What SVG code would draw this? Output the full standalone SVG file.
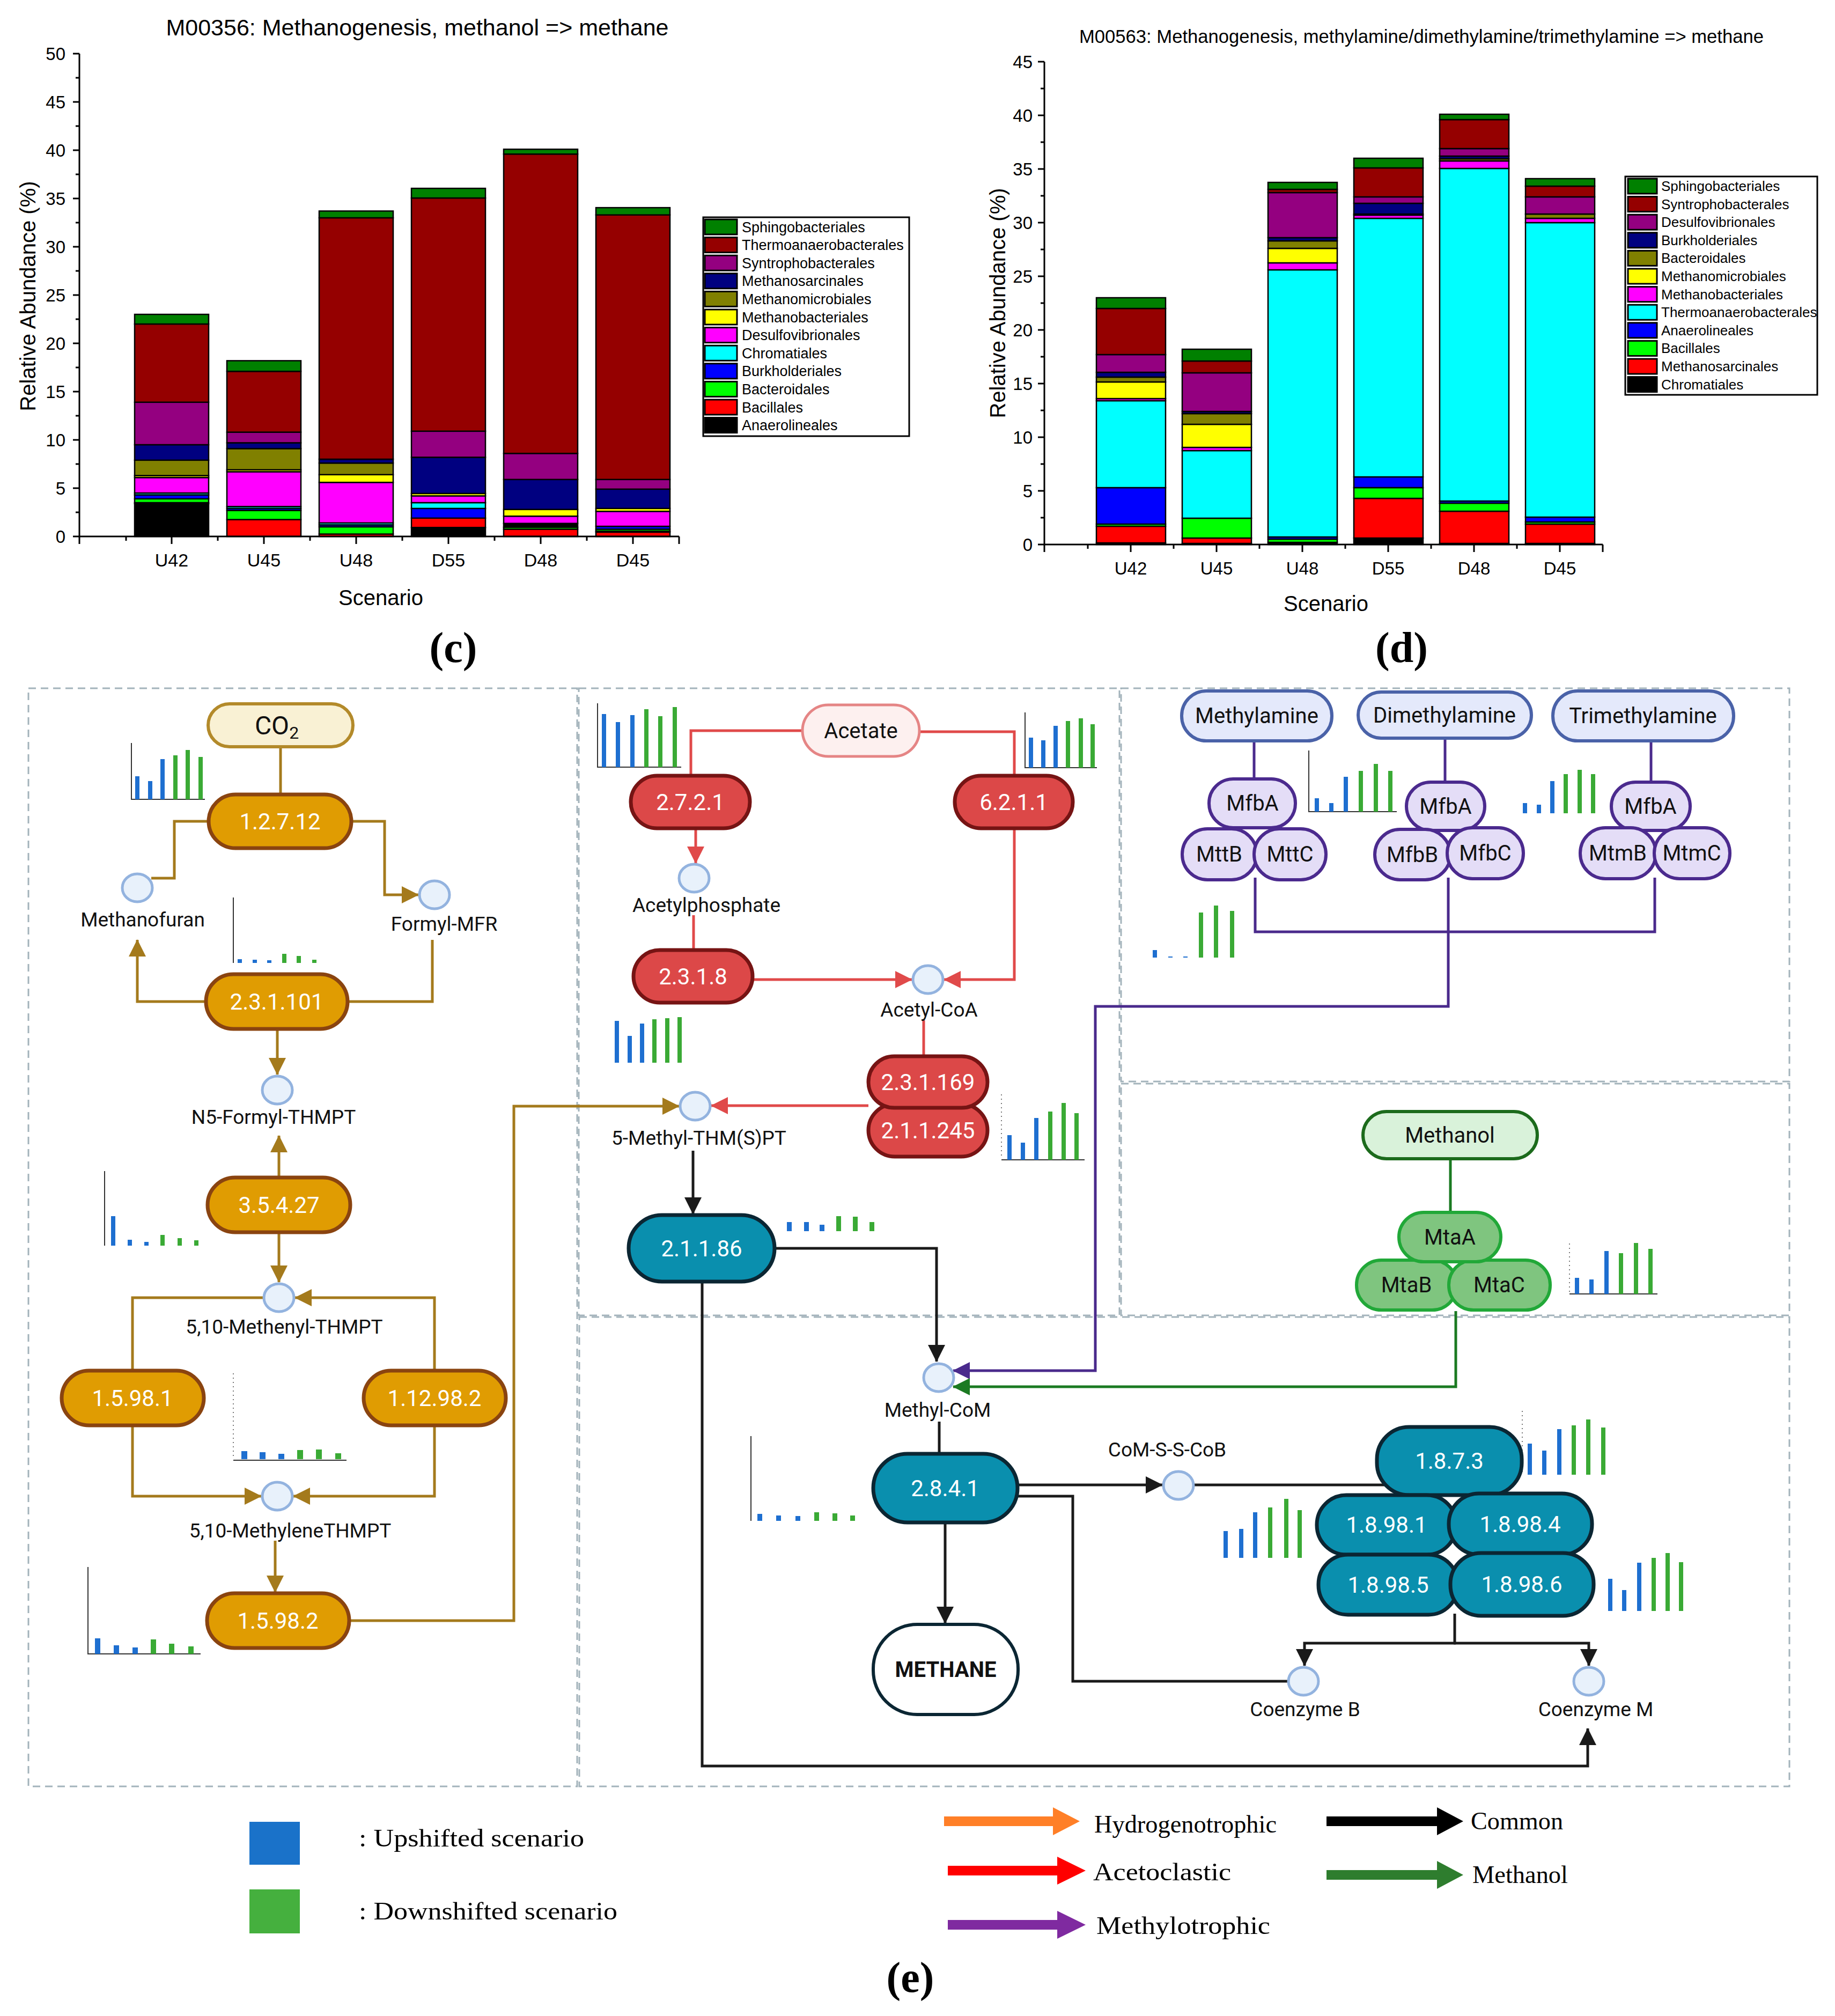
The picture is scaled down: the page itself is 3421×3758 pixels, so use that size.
<svg xmlns="http://www.w3.org/2000/svg" width="3421" height="3758" viewBox="0 0 3421 3758">
<style>
.ct{font-family:"Liberation Sans",Arial,sans-serif;fill:#000}
.pn{font-family:Roboto,"Liberation Sans",sans-serif}
.ez{font-size:42px;fill:#fff;text-anchor:middle}
.mt{font-size:37px;fill:#111;text-anchor:middle}
.nb{font-size:40px;fill:#111;text-anchor:middle}
.lg{font-family:"Liberation Serif","Times New Roman",serif;font-size:47px;fill:#000}
.ax{stroke:#000;stroke-width:3;fill:none}
.seg rect{stroke:#000;stroke-width:2.5}
.sw{stroke:#000;stroke-width:3}
.pan{fill:none;stroke:#a3b3bb;stroke-width:3;stroke-dasharray:14 9}
.gold{fill:none;stroke:#a47a1c;stroke-width:5}
.red{fill:none;stroke:#e04a4a;stroke-width:5}
.blk{fill:none;stroke:#1a1a1a;stroke-width:5}
.pur{fill:none;stroke:#4a2a8c;stroke-width:5}
.grn{fill:none;stroke:#1b7a22;stroke-width:5}
.gN{fill:#e09c02;stroke:#8a4410;stroke-width:7}
.rN{fill:#dc4848;stroke:#761414;stroke-width:7}
.tN{fill:#0a8fae;stroke:#0b2633;stroke-width:7}
.aN{fill:#e4e9fb;stroke:#4a62a8;stroke-width:6}
.pN{fill:#e4ddf7;stroke:#4b2a8e;stroke-width:6}
.mN{fill:#7fc57f;stroke:#21a838;stroke-width:6}
.met{fill:#e8f1fb;stroke:#93b3df;stroke-width:5}
.b{fill:#1e6fd0}
.g{fill:#3aaa35}
.mx{fill:none;stroke:#333;stroke-width:2}
.md{fill:none;stroke:#777;stroke-width:2;stroke-dasharray:2 6}
</style>
<defs>
<marker id="aG" markerUnits="userSpaceOnUse" markerWidth="32" markerHeight="32" refX="31" refY="16" orient="auto"><path d="M0,0 L32,16 L0,32 z" fill="#a47a1c"/></marker>
<marker id="aR" markerUnits="userSpaceOnUse" markerWidth="32" markerHeight="32" refX="31" refY="16" orient="auto"><path d="M0,0 L32,16 L0,32 z" fill="#e04a4a"/></marker>
<marker id="aK" markerUnits="userSpaceOnUse" markerWidth="32" markerHeight="32" refX="31" refY="16" orient="auto"><path d="M0,0 L32,16 L0,32 z" fill="#1a1a1a"/></marker>
<marker id="aP" markerUnits="userSpaceOnUse" markerWidth="32" markerHeight="32" refX="31" refY="16" orient="auto"><path d="M0,0 L32,16 L0,32 z" fill="#4a2a8c"/></marker>
<marker id="aV" markerUnits="userSpaceOnUse" markerWidth="32" markerHeight="32" refX="31" refY="16" orient="auto"><path d="M0,0 L32,16 L0,32 z" fill="#1b7a22"/></marker>
</defs>
<rect width="3421" height="3758" fill="#fff"/>

<!-- ===== Chart (c) ===== -->
<g id="chart-c">
<text class="ct" x="778" y="66" font-size="43" text-anchor="middle">M00356: Methanogenesis, methanol =&gt; methane</text>
<g class="seg">
<rect x="251" y="938.8" width="138" height="61.2" fill="#000"/>
<rect x="251" y="937" width="138" height="1.8" fill="#f00"/>
<rect x="251" y="929.8" width="138" height="7.2" fill="#0f0"/>
<rect x="251" y="922.6" width="138" height="7.2" fill="#00f"/>
<rect x="251" y="919" width="138" height="3.6" fill="#0ff"/>
<rect x="251" y="890.2" width="138" height="28.8" fill="#f0f"/>
<rect x="251" y="886.6" width="138" height="3.6" fill="#ff0"/>
<rect x="251" y="857.8" width="138" height="28.8" fill="#808000"/>
<rect x="251" y="829" width="138" height="28.8" fill="#000080"/>
<rect x="251" y="749.8" width="138" height="79.2" fill="#940080"/>
<rect x="251" y="604" width="138" height="145.8" fill="#950000"/>
<rect x="251" y="586" width="138" height="18" fill="#008000"/>

<rect x="423" y="968.5" width="138" height="31.5" fill="#f00"/>
<rect x="423" y="951.4" width="138" height="17.1" fill="#0f0"/>
<rect x="423" y="947.8" width="138" height="3.6" fill="#00f"/>
<rect x="423" y="944.2" width="138" height="3.6" fill="#0ff"/>
<rect x="423" y="879.4" width="138" height="64.8" fill="#f0f"/>
<rect x="423" y="875.8" width="138" height="3.6" fill="#ff0"/>
<rect x="423" y="836.2" width="138" height="39.6" fill="#808000"/>
<rect x="423" y="825.4" width="138" height="10.8" fill="#000080"/>
<rect x="423" y="805.6" width="138" height="19.8" fill="#940080"/>
<rect x="423" y="692.2" width="138" height="113.4" fill="#950000"/>
<rect x="423" y="672.4" width="138" height="19.8" fill="#008000"/>

<rect x="595" y="995.5" width="138" height="4.5" fill="#f00"/>
<rect x="595" y="982" width="138" height="13.5" fill="#0f0"/>
<rect x="595" y="978.4" width="138" height="3.6" fill="#00f"/>
<rect x="595" y="974.8" width="138" height="3.6" fill="#0ff"/>
<rect x="595" y="899.2" width="138" height="75.6" fill="#f0f"/>
<rect x="595" y="884.8" width="138" height="14.4" fill="#ff0"/>
<rect x="595" y="863.2" width="138" height="21.6" fill="#808000"/>
<rect x="595" y="856" width="138" height="7.2" fill="#000080"/>
<rect x="595" y="406" width="138" height="450" fill="#950000"/>
<rect x="595" y="393.4" width="138" height="12.6" fill="#008000"/>

<rect x="767" y="983.3" width="138" height="16.7" fill="#000"/>
<rect x="767" y="965.8" width="138" height="17.5" fill="#f00"/>
<rect x="767" y="947.8" width="138" height="18" fill="#00f"/>
<rect x="767" y="937" width="138" height="10.8" fill="#0ff"/>
<rect x="767" y="924.4" width="138" height="12.6" fill="#f0f"/>
<rect x="767" y="919.9" width="138" height="4.5" fill="#ff0"/>
<rect x="767" y="852.4" width="138" height="67.5" fill="#000080"/>
<rect x="767" y="803.8" width="138" height="48.6" fill="#940080"/>
<rect x="767" y="369.1" width="138" height="434.7" fill="#950000"/>
<rect x="767" y="351.1" width="138" height="18" fill="#008000"/>

<rect x="939" y="986.5" width="138" height="13.5" fill="#f00"/>
<rect x="939" y="982.9" width="138" height="3.6" fill="#0f0"/>
<rect x="939" y="975.7" width="138" height="7.2" fill="#000"/>
<rect x="939" y="962.2" width="138" height="13.5" fill="#f0f"/>
<rect x="939" y="949.6" width="138" height="12.6" fill="#ff0"/>
<rect x="939" y="893.8" width="138" height="55.8" fill="#000080"/>
<rect x="939" y="845.2" width="138" height="48.6" fill="#940080"/>
<rect x="939" y="287.2" width="138" height="558" fill="#950000"/>
<rect x="939" y="278.2" width="138" height="9" fill="#008000"/>

<rect x="1111" y="991.9" width="138" height="8.1" fill="#f00"/>
<rect x="1111" y="990.1" width="138" height="1.8" fill="#000"/>
<rect x="1111" y="986.5" width="138" height="3.6" fill="#0f0"/>
<rect x="1111" y="981.1" width="138" height="5.4" fill="#00f"/>
<rect x="1111" y="953.2" width="138" height="27.9" fill="#f0f"/>
<rect x="1111" y="947.8" width="138" height="5.4" fill="#ff0"/>
<rect x="1111" y="911.8" width="138" height="36" fill="#000080"/>
<rect x="1111" y="893.8" width="138" height="18" fill="#940080"/>
<rect x="1111" y="400.6" width="138" height="493.2" fill="#950000"/>
<rect x="1111" y="387.1" width="138" height="13.5" fill="#008000"/>
</g>
<path class="ax" d="M148,100 V1000 H1266"/>
<path class="ax" d="M136,1000H148M141,955H148M136,910H148M141,865H148M136,820H148M141,775H148M136,730H148M141,685H148M136,640H148M141,595H148M136,550H148M141,505H148M136,460H148M141,415H148M136,370H148M141,325H148M136,280H148M141,235H148M136,190H148M141,145H148M136,100H148"/>
<path class="ax" d="M148,1000V1014M235,1000V1008M320,1000V1014M406,1000V1008M492,1000V1014M578,1000V1008M664,1000V1014M750,1000V1008M836,1000V1014M922,1000V1008M1008,1000V1014M1094,1000V1008M1180,1000V1014M1266,1000V1014"/>
<g class="ct" font-size="33" text-anchor="end">
<text x="122" y="1012">0</text><text x="122" y="922">5</text><text x="122" y="832">10</text><text x="122" y="742">15</text><text x="122" y="652">20</text><text x="122" y="562">25</text><text x="122" y="472">30</text><text x="122" y="382">35</text><text x="122" y="292">40</text><text x="122" y="202">45</text><text x="122" y="112">50</text>
</g>
<g class="ct" font-size="34" text-anchor="middle">
<text x="320" y="1056">U42</text><text x="492" y="1056">U45</text><text x="664" y="1056">U48</text><text x="836" y="1056">D55</text><text x="1008" y="1056">D48</text><text x="1180" y="1056">D45</text>
</g>
<text class="ct" font-size="40" text-anchor="middle" transform="translate(66,552) rotate(-90)">Relative Abundance (%)</text>
<text class="ct" font-size="40" text-anchor="middle" x="710" y="1128">Scenario</text>
<rect x="1311" y="405" width="384" height="408" fill="#fff" stroke="#000" stroke-width="3"/>
<g class="sw">
<rect x="1314" y="409" width="60" height="28" fill="#008000"/>
<rect x="1314" y="442.6" width="60" height="28" fill="#950000"/>
<rect x="1314" y="476.2" width="60" height="28" fill="#940080"/>
<rect x="1314" y="509.8" width="60" height="28" fill="#000080"/>
<rect x="1314" y="543.4" width="60" height="28" fill="#808000"/>
<rect x="1314" y="577" width="60" height="28" fill="#ff0"/>
<rect x="1314" y="610.6" width="60" height="28" fill="#f0f"/>
<rect x="1314" y="644.2" width="60" height="28" fill="#0ff"/>
<rect x="1314" y="677.8" width="60" height="28" fill="#00f"/>
<rect x="1314" y="711.4" width="60" height="28" fill="#0f0"/>
<rect x="1314" y="745" width="60" height="28" fill="#f00"/>
<rect x="1314" y="778.6" width="60" height="28" fill="#000"/>
</g>
<g class="ct" font-size="27">
<text x="1383" y="432.5">Sphingobacteriales</text>
<text x="1383" y="466.1">Thermoanaerobacterales</text>
<text x="1383" y="499.7">Syntrophobacterales</text>
<text x="1383" y="533.3">Methanosarcinales</text>
<text x="1383" y="566.9">Methanomicrobiales</text>
<text x="1383" y="600.5">Methanobacteriales</text>
<text x="1383" y="634.1">Desulfovibrionales</text>
<text x="1383" y="667.7">Chromatiales</text>
<text x="1383" y="701.3">Burkholderiales</text>
<text x="1383" y="734.9">Bacteroidales</text>
<text x="1383" y="768.5">Bacillales</text>
<text x="1383" y="802.1">Anaerolineales</text>
</g>
<text x="845" y="1234" font-family="'Liberation Serif','Times New Roman',serif" font-weight="bold" font-size="80" text-anchor="middle">(c)</text>
</g>

<!-- ===== Chart (d) ===== -->
<g id="chart-d">
<text class="ct" x="2650" y="80" font-size="35" text-anchor="middle" textLength="1276" lengthAdjust="spacingAndGlyphs">M00563: Methanogenesis, methylamine/dimethylamine/trimethylamine =&gt; methane</text>
<g class="seg">
<rect x="2044" y="1012" width="129" height="3" fill="#000"/>
<rect x="2044" y="981" width="129" height="31" fill="#f00"/>
<rect x="2044" y="977" width="129" height="4" fill="#0f0"/>
<rect x="2044" y="909" width="129" height="68" fill="#00f"/>
<rect x="2044" y="747" width="129" height="162" fill="#0ff"/>
<rect x="2044" y="743" width="129" height="4" fill="#f0f"/>
<rect x="2044" y="712" width="129" height="31" fill="#ff0"/>
<rect x="2044" y="703" width="129" height="9" fill="#808000"/>
<rect x="2044" y="694" width="129" height="9" fill="#000080"/>
<rect x="2044" y="661" width="129" height="33" fill="#940080"/>
<rect x="2044" y="575" width="129" height="86" fill="#950000"/>
<rect x="2044" y="555" width="129" height="20" fill="#008000"/>

<rect x="2204" y="1013" width="129" height="2" fill="#000"/>
<rect x="2204" y="1003" width="129" height="10" fill="#f00"/>
<rect x="2204" y="966" width="129" height="37" fill="#0f0"/>
<rect x="2204" y="840" width="129" height="126" fill="#0ff"/>
<rect x="2204" y="834" width="129" height="6" fill="#f0f"/>
<rect x="2204" y="791" width="129" height="43" fill="#ff0"/>
<rect x="2204" y="771" width="129" height="20" fill="#808000"/>
<rect x="2204" y="767" width="129" height="4" fill="#000080"/>
<rect x="2204" y="695" width="129" height="72" fill="#940080"/>
<rect x="2204" y="673" width="129" height="22" fill="#950000"/>
<rect x="2204" y="651" width="129" height="22" fill="#008000"/>

<rect x="2364" y="1011" width="129" height="4" fill="#000"/>
<rect x="2364" y="1005" width="129" height="6" fill="#0f0"/>
<rect x="2364" y="1001" width="129" height="4" fill="#00f"/>
<rect x="2364" y="503" width="129" height="498" fill="#0ff"/>
<rect x="2364" y="490" width="129" height="13" fill="#f0f"/>
<rect x="2364" y="463" width="129" height="27" fill="#ff0"/>
<rect x="2364" y="449" width="129" height="14" fill="#808000"/>
<rect x="2364" y="443" width="129" height="6" fill="#000080"/>
<rect x="2364" y="359" width="129" height="84" fill="#940080"/>
<rect x="2364" y="353" width="129" height="6" fill="#950000"/>
<rect x="2364" y="340" width="129" height="13" fill="#008000"/>

<rect x="2524" y="1003" width="129" height="12" fill="#000"/>
<rect x="2524" y="929" width="129" height="74" fill="#f00"/>
<rect x="2524" y="909" width="129" height="20" fill="#0f0"/>
<rect x="2524" y="889" width="129" height="20" fill="#00f"/>
<rect x="2524" y="407" width="129" height="482" fill="#0ff"/>
<rect x="2524" y="401" width="129" height="6" fill="#f0f"/>
<rect x="2524" y="399" width="129" height="2" fill="#ff0"/>
<rect x="2524" y="379" width="129" height="20" fill="#000080"/>
<rect x="2524" y="367" width="129" height="12" fill="#940080"/>
<rect x="2524" y="313" width="129" height="54" fill="#950000"/>
<rect x="2524" y="295" width="129" height="18" fill="#008000"/>

<rect x="2684" y="1013" width="129" height="2" fill="#000"/>
<rect x="2684" y="953" width="129" height="60" fill="#f00"/>
<rect x="2684" y="938" width="129" height="15" fill="#0f0"/>
<rect x="2684" y="934" width="129" height="4" fill="#00f"/>
<rect x="2684" y="314" width="129" height="620" fill="#0ff"/>
<rect x="2684" y="300" width="129" height="14" fill="#f0f"/>
<rect x="2684" y="296" width="129" height="4" fill="#808000"/>
<rect x="2684" y="291" width="129" height="5" fill="#000080"/>
<rect x="2684" y="277" width="129" height="14" fill="#940080"/>
<rect x="2684" y="223" width="129" height="54" fill="#950000"/>
<rect x="2684" y="213" width="129" height="10" fill="#008000"/>

<rect x="2844" y="1013" width="129" height="2" fill="#000"/>
<rect x="2844" y="977" width="129" height="36" fill="#f00"/>
<rect x="2844" y="973" width="129" height="4" fill="#0f0"/>
<rect x="2844" y="964" width="129" height="9" fill="#00f"/>
<rect x="2844" y="415" width="129" height="549" fill="#0ff"/>
<rect x="2844" y="407" width="129" height="8" fill="#f0f"/>
<rect x="2844" y="399" width="129" height="8" fill="#808000"/>
<rect x="2844" y="367" width="129" height="32" fill="#940080"/>
<rect x="2844" y="347" width="129" height="20" fill="#950000"/>
<rect x="2844" y="333" width="129" height="14" fill="#008000"/>
</g>
<path class="ax" d="M1947,115 V1015 H2988"/>
<path class="ax" d="M1935,1015H1947M1940,965H1947M1935,915H1947M1940,865H1947M1935,815H1947M1940,765H1947M1935,715H1947M1940,665H1947M1935,615H1947M1940,565H1947M1935,515H1947M1940,465H1947M1935,415H1947M1940,365H1947M1935,315H1947M1940,265H1947M1935,215H1947M1940,165H1947M1935,115H1947"/>
<path class="ax" d="M1947,1015V1029M2028,1015V1023M2108,1015V1029M2188,1015V1023M2268,1015V1029M2348,1015V1023M2428,1015V1029M2508,1015V1023M2588,1015V1029M2668,1015V1023M2748,1015V1029M2828,1015V1023M2908,1015V1029M2988,1015V1029"/>
<g class="ct" font-size="33" text-anchor="end">
<text x="1925" y="1027">0</text><text x="1925" y="927">5</text><text x="1925" y="827">10</text><text x="1925" y="727">15</text><text x="1925" y="627">20</text><text x="1925" y="527">25</text><text x="1925" y="427">30</text><text x="1925" y="327">35</text><text x="1925" y="227">40</text><text x="1925" y="127">45</text>
</g>
<g class="ct" font-size="33" text-anchor="middle">
<text x="2108" y="1071">U42</text><text x="2268" y="1071">U45</text><text x="2428" y="1071">U48</text><text x="2588" y="1071">D55</text><text x="2748" y="1071">D48</text><text x="2908" y="1071">D45</text>
</g>
<text class="ct" font-size="40" text-anchor="middle" transform="translate(1874,565) rotate(-90)">Relative Abundance (%)</text>
<text class="ct" font-size="40" text-anchor="middle" x="2472" y="1139">Scenario</text>
<rect x="3030" y="329" width="358" height="407" fill="#fff" stroke="#000" stroke-width="3"/>
<g class="sw">
<rect x="3035" y="333" width="54" height="28" fill="#008000"/>
<rect x="3035" y="366.6" width="54" height="28" fill="#950000"/>
<rect x="3035" y="400.2" width="54" height="28" fill="#940080"/>
<rect x="3035" y="433.8" width="54" height="28" fill="#000080"/>
<rect x="3035" y="467.4" width="54" height="28" fill="#808000"/>
<rect x="3035" y="501" width="54" height="28" fill="#ff0"/>
<rect x="3035" y="534.6" width="54" height="28" fill="#f0f"/>
<rect x="3035" y="568.2" width="54" height="28" fill="#0ff"/>
<rect x="3035" y="601.8" width="54" height="28" fill="#00f"/>
<rect x="3035" y="635.4" width="54" height="28" fill="#0f0"/>
<rect x="3035" y="669" width="54" height="28" fill="#f00"/>
<rect x="3035" y="702.6" width="54" height="28" fill="#000"/>
</g>
<g class="ct" font-size="26">
<text x="3097" y="356">Sphingobacteriales</text>
<text x="3097" y="389.6">Syntrophobacterales</text>
<text x="3097" y="423.2">Desulfovibrionales</text>
<text x="3097" y="456.8">Burkholderiales</text>
<text x="3097" y="490.4">Bacteroidales</text>
<text x="3097" y="524">Methanomicrobiales</text>
<text x="3097" y="557.6">Methanobacteriales</text>
<text x="3097" y="591.2">Thermoanaerobacterales</text>
<text x="3097" y="624.8">Anaerolineales</text>
<text x="3097" y="658.4">Bacillales</text>
<text x="3097" y="692">Methanosarcinales</text>
<text x="3097" y="725.6">Chromatiales</text>
</g>
<text x="2613" y="1234" font-family="'Liberation Serif','Times New Roman',serif" font-weight="bold" font-size="80" text-anchor="middle">(d)</text>
</g>

<!-- ===== Pathway panels ===== -->
<g id="panels">
<rect class="pan" x="53" y="1283" width="1023" height="2047"/>
<rect class="pan" x="1079" y="1283" width="1008" height="1169"/>
<rect class="pan" x="2090" y="1283" width="1246" height="733"/>
<rect class="pan" x="2090" y="2020" width="1246" height="432"/>
<rect class="pan" x="1080" y="2455" width="2256" height="875"/>
</g>

<!-- ===== Mini bar charts ===== -->
<g id="minicharts">
<g id="mc1"><path class="mx" d="M245,1385V1490H382"/><rect class="b" x="252" y="1447" width="8" height="43"/><rect class="b" x="276" y="1456" width="8" height="34"/><rect class="b" x="299" y="1415" width="8" height="75"/><rect class="g" x="323" y="1408" width="8" height="82"/><rect class="g" x="346" y="1398" width="8" height="92"/><rect class="g" x="370" y="1411" width="8" height="79"/></g>
<g id="mc2"><path class="mx" d="M435,1673V1795"/><rect class="b" x="443" y="1788" width="8" height="7"/><rect class="b" x="471" y="1789" width="8" height="6"/><rect class="b" x="498" y="1790" width="8" height="5"/><rect class="g" x="526" y="1778" width="8" height="17"/><rect class="g" x="553" y="1782" width="8" height="13"/><rect class="g" x="582" y="1789" width="8" height="6"/></g>
<g id="mc3"><path class="mx" d="M195,2183V2322"/><rect class="b" x="207" y="2267" width="8" height="55"/><rect class="b" x="238" y="2311" width="8" height="11"/><rect class="b" x="269" y="2315" width="8" height="7"/><rect class="g" x="299" y="2302" width="8" height="20"/><rect class="g" x="331" y="2308" width="8" height="14"/><rect class="g" x="362" y="2312" width="8" height="10"/></g>
<g id="mc4"><path class="md" d="M435,2560V2720"/><path class="mx" d="M435,2722H646"/><rect class="b" x="450" y="2705" width="11" height="15"/><rect class="b" x="484" y="2707" width="11" height="13"/><rect class="b" x="519" y="2710" width="11" height="10"/><rect class="g" x="554" y="2703" width="11" height="17"/><rect class="g" x="589" y="2702" width="11" height="18"/><rect class="g" x="625" y="2709" width="11" height="11"/></g>
<g id="mc5"><path class="mx" d="M164,2921V3083H374"/><rect class="b" x="177" y="3054" width="10" height="29"/><rect class="b" x="212" y="3067" width="10" height="16"/><rect class="b" x="247" y="3071" width="10" height="12"/><rect class="g" x="281" y="3056" width="10" height="27"/><rect class="g" x="315" y="3064" width="10" height="19"/><rect class="g" x="351" y="3069" width="10" height="14"/></g>
<g id="mc6"><path class="mx" d="M1114,1311V1430H1270"/><rect class="b" x="1122" y="1331" width="8" height="99"/><rect class="b" x="1148" y="1346" width="8" height="84"/><rect class="b" x="1175" y="1333" width="8" height="97"/><rect class="g" x="1201" y="1322" width="8" height="108"/><rect class="g" x="1227" y="1335" width="8" height="95"/><rect class="g" x="1254" y="1318" width="8" height="112"/></g>
<g id="mc7"><path class="mx" d="M1911,1328V1431H2045"/><rect class="b" x="1918" y="1375" width="8" height="56"/><rect class="b" x="1941" y="1380" width="8" height="51"/><rect class="b" x="1964" y="1353" width="8" height="78"/><rect class="g" x="1987" y="1344" width="8" height="87"/><rect class="g" x="2011" y="1339" width="8" height="92"/><rect class="g" x="2033" y="1350" width="8" height="81"/></g>
<g id="mc8"><rect class="b" x="1146" y="1903" width="8" height="78"/><rect class="b" x="1170" y="1931" width="8" height="50"/><rect class="b" x="1193" y="1908" width="8" height="73"/><rect class="g" x="1216" y="1900" width="8" height="81"/><rect class="g" x="1240" y="1898" width="8" height="83"/><rect class="g" x="1263" y="1896" width="8" height="85"/></g>
<g id="mc9"><path class="md" d="M1867,2040V2160"/><path class="mx" d="M1867,2162H2022"/><rect class="b" x="1878" y="2116" width="8" height="46"/><rect class="b" x="1903" y="2130" width="8" height="32"/><rect class="b" x="1928" y="2084" width="8" height="78"/><rect class="g" x="1954" y="2072" width="8" height="90"/><rect class="g" x="1979" y="2056" width="8" height="106"/><rect class="g" x="2003" y="2075" width="8" height="87"/></g>
<g id="mc10"><rect class="b" x="1467" y="2278" width="9" height="17"/><rect class="b" x="1499" y="2278" width="9" height="17"/><rect class="b" x="1528" y="2283" width="9" height="12"/><rect class="g" x="1559" y="2267" width="9" height="28"/><rect class="g" x="1590" y="2268" width="9" height="27"/><rect class="g" x="1621" y="2278" width="9" height="17"/></g>
<g id="mc11"><path class="mx" d="M2440,1399V1513H2604"/><rect class="b" x="2451" y="1488" width="8" height="25"/><rect class="b" x="2478" y="1497" width="8" height="16"/><rect class="b" x="2505" y="1448" width="8" height="65"/><rect class="g" x="2533" y="1437" width="8" height="76"/><rect class="g" x="2561" y="1424" width="8" height="89"/><rect class="g" x="2588" y="1437" width="8" height="76"/></g>
<g id="mc12"><rect class="b" x="2839" y="1497" width="8" height="19"/><rect class="b" x="2865" y="1500" width="8" height="16"/><rect class="b" x="2890" y="1456" width="8" height="60"/><rect class="g" x="2915" y="1443" width="8" height="73"/><rect class="g" x="2941" y="1435" width="8" height="81"/><rect class="g" x="2966" y="1443" width="8" height="73"/></g>
<g id="mc13"><rect class="b" x="2149" y="1771" width="8" height="14"/><rect class="b" x="2178" y="1783" width="8" height="2"/><rect class="b" x="2206" y="1783" width="8" height="2"/><rect class="g" x="2235" y="1701" width="8" height="84"/><rect class="g" x="2263" y="1688" width="8" height="97"/><rect class="g" x="2293" y="1698" width="8" height="87"/></g>
<g id="mc14"><path class="md" d="M2926,2318V2410"/><path class="mx" d="M2926,2412H3090"/><rect class="b" x="2936" y="2382" width="8" height="30"/><rect class="b" x="2963" y="2385" width="8" height="27"/><rect class="b" x="2991" y="2332" width="8" height="80"/><rect class="g" x="3018" y="2336" width="8" height="76"/><rect class="g" x="3046" y="2317" width="8" height="95"/><rect class="g" x="3073" y="2328" width="8" height="84"/></g>
<g id="mc15"><path class="mx" d="M1400,2677V2835" stroke="#999"/><rect class="b" x="1412" y="2822" width="9" height="13"/><rect class="b" x="1447" y="2825" width="9" height="10"/><rect class="b" x="1483" y="2826" width="9" height="9"/><rect class="g" x="1518" y="2819" width="9" height="16"/><rect class="g" x="1552" y="2821" width="9" height="14"/><rect class="g" x="1585" y="2825" width="9" height="10"/></g>
<g id="mc16"><path class="md" d="M2838,2630V2749"/><rect class="b" x="2848" y="2691" width="8" height="58"/><rect class="b" x="2875" y="2704" width="8" height="45"/><rect class="b" x="2903" y="2664" width="8" height="85"/><rect class="g" x="2930" y="2657" width="8" height="92"/><rect class="g" x="2957" y="2646" width="8" height="103"/><rect class="g" x="2985" y="2661" width="8" height="88"/></g>
<g id="mc17"><rect class="b" x="2281" y="2854" width="8" height="50"/><rect class="b" x="2310" y="2850" width="8" height="54"/><rect class="b" x="2336" y="2819" width="8" height="85"/><rect class="g" x="2364" y="2810" width="8" height="94"/><rect class="g" x="2394" y="2794" width="8" height="110"/><rect class="g" x="2419" y="2815" width="8" height="89"/></g>
<g id="mc18"><rect class="b" x="2998" y="2943" width="8" height="60"/><rect class="b" x="3024" y="2964" width="8" height="39"/><rect class="b" x="3052" y="2913" width="8" height="90"/><rect class="g" x="3079" y="2904" width="8" height="99"/><rect class="g" x="3105" y="2895" width="8" height="108"/><rect class="g" x="3130" y="2912" width="8" height="91"/></g>
</g>

<!-- ===== Connectors ===== -->
<g id="connectors">
<path class="gold" d="M523,1392V1481"/>
<path class="gold" d="M389,1531H325V1637H282"/>
<path class="gold" d="M655,1531H717V1668H780" marker-end="url(#aG)"/>
<path class="gold" d="M384,1867H256V1752" marker-end="url(#aG)"/>
<path class="gold" d="M806,1752V1867H648"/>
<path class="gold" d="M517,1918V2003" marker-end="url(#aG)"/>
<path class="gold" d="M520,2195V2117" marker-end="url(#aG)"/>
<path class="gold" d="M520,2297V2390" marker-end="url(#aG)"/>
<path class="gold" d="M492,2419H247V2555"/>
<path class="gold" d="M810,2555V2419H550" marker-end="url(#aG)"/>
<path class="gold" d="M247,2657V2789H487" marker-end="url(#aG)"/>
<path class="gold" d="M810,2657V2789H547" marker-end="url(#aG)"/>
<path class="gold" d="M513,2872V2968" marker-end="url(#aG)"/>
<path class="gold" d="M651,3021H958V2062H1266" marker-end="url(#aG)"/>

<path class="red" d="M1496,1362H1288V1446"/>
<path class="red" d="M1714,1364H1891V1446"/>
<path class="red" d="M1297,1544V1609" marker-end="url(#aR)"/>
<path class="red" d="M1293,1706V1771"/>
<path class="red" d="M1403,1826H1700" marker-end="url(#aR)"/>
<path class="red" d="M1891,1544V1826H1760" marker-end="url(#aR)"/>
<path class="red" d="M1722,1902V1969"/>
<path class="red" d="M1619,2061H1326" marker-end="url(#aR)"/>

<path class="blk" d="M1292,2145V2263" marker-end="url(#aK)"/>
<path class="blk" d="M1444,2327H1746V2538" marker-end="url(#aK)"/>
<path class="blk" d="M1309,2389V3292H2960V3222" marker-end="url(#aK)"/>
<path class="blk" d="M1751,2650V2710"/>
<path class="blk" d="M1762,2838V3026" marker-end="url(#aK)"/>
<path class="blk" d="M1897,2768H2167" marker-end="url(#aK)"/>
<path class="blk" d="M2226,2768H2600"/>
<path class="blk" d="M1897,2789H2000V3134H2401"/>
<path class="blk" d="M2712,3008V3063"/>
<path class="blk" d="M2714,3063H2432V3105" marker-end="url(#aK)"/>
<path class="blk" d="M2710,3063H2962V3105" marker-end="url(#aK)"/>

<path class="pur" d="M2338,1381V1452"/>
<path class="pur" d="M2694,1376V1458"/>
<path class="pur" d="M3078,1381V1458"/>
<path class="pur" d="M2340,1636V1737H3085V1636"/>
<path class="pur" d="M2700,1636V1876H2042V2555H1777" marker-end="url(#aP)"/>

<path class="grn" d="M2704,2160V2260"/>
<path class="grn" d="M2714,2444V2585H1777" marker-end="url(#aV)"/>
</g>

<!-- ===== Hydrogenotrophic nodes ===== -->
<g id="n-co2"><rect x="388" y="1312" width="270" height="80" rx="40" fill="#f9f1d4" stroke="#b38a2a" stroke-width="6"/><text class="pn" x="516" y="1369" font-size="48" fill="#111" text-anchor="middle">CO<tspan font-size="32" dy="8">2</tspan></text></g>
<g id="n-1.2.7.12"><rect class="gN" x="389" y="1481" width="266" height="100" rx="50"/><text class="pn ez" x="522" y="1546">1.2.7.12</text></g>
<g id="n-methanofuran"><ellipse class="met" cx="256" cy="1655" rx="28" ry="26"/><text class="pn mt" x="266" y="1727">Methanofuran</text></g>
<g id="n-formylmfr"><ellipse class="met" cx="810" cy="1668" rx="28" ry="26"/><text class="pn mt" x="828" y="1735">Formyl-MFR</text></g>
<g id="n-2.3.1.101"><rect class="gN" x="384" y="1816" width="264" height="102" rx="51"/><text class="pn ez" x="516" y="1882">2.3.1.101</text></g>
<g id="n-n5formyl"><ellipse class="met" cx="517" cy="2032" rx="28" ry="26"/><text class="pn mt" x="510" y="2095">N5-Formyl-THMPT</text></g>
<g id="n-3.5.4.27"><rect class="gN" x="387" y="2195" width="266" height="102" rx="51"/><text class="pn ez" x="520" y="2261">3.5.4.27</text></g>
<g id="n-methenyl"><ellipse class="met" cx="520" cy="2419" rx="28" ry="26"/><text class="pn mt" x="530" y="2486">5,10-Methenyl-THMPT</text></g>
<g id="n-1.5.98.1"><rect class="gN" x="115" y="2555" width="265" height="102" rx="51"/><text class="pn ez" x="247" y="2621">1.5.98.1</text></g>
<g id="n-1.12.98.2"><rect class="gN" x="678" y="2555" width="265" height="102" rx="51"/><text class="pn ez" x="810" y="2621">1.12.98.2</text></g>
<g id="n-methylene"><ellipse class="met" cx="517" cy="2789" rx="28" ry="26"/><text class="pn mt" x="541" y="2866">5,10-MethyleneTHMPT</text></g>
<g id="n-1.5.98.2"><rect class="gN" x="386" y="2970" width="265" height="102" rx="51"/><text class="pn ez" x="518" y="3036">1.5.98.2</text></g>

<!-- ===== Acetoclastic nodes ===== -->
<g id="n-acetate"><rect x="1496" y="1314" width="218" height="96" rx="48" fill="#fdf0ef" stroke="#e58585" stroke-width="5"/><text class="pn nb" x="1605" y="1376">Acetate</text></g>
<g id="n-2.7.2.1"><rect class="rN" x="1176" y="1446" width="222" height="98" rx="49"/><text class="pn ez" x="1287" y="1510">2.7.2.1</text></g>
<g id="n-6.2.1.1"><rect class="rN" x="1780" y="1446" width="220" height="98" rx="49"/><text class="pn ez" x="1890" y="1510">6.2.1.1</text></g>
<g id="n-acetylphosphate"><ellipse class="met" cx="1294" cy="1637" rx="28" ry="26"/><text class="pn mt" x="1317" y="1700">Acetylphosphate</text></g>
<g id="n-2.3.1.8"><rect class="rN" x="1181" y="1771" width="222" height="98" rx="49"/><text class="pn ez" x="1292" y="1835">2.3.1.8</text></g>
<g id="n-acetylcoa"><ellipse class="met" cx="1730" cy="1826" rx="28" ry="26"/><text class="pn mt" x="1732" y="1895">Acetyl-CoA</text></g>
<g id="n-2.1.1.245"><rect class="rN" x="1619" y="2058" width="222" height="98" rx="49"/><text class="pn ez" x="1730" y="2122">2.1.1.245</text></g>
<g id="n-2.3.1.169"><rect class="rN" x="1619" y="1969" width="222" height="96" rx="48"/><text class="pn ez" x="1730" y="2032">2.3.1.169</text></g>
<g id="n-5methyl"><ellipse class="met" cx="1296" cy="2062" rx="28" ry="26"/><text class="pn mt" x="1303" y="2134">5-Methyl-THM(S)PT</text></g>
<g id="n-2.1.1.86"><rect class="tN" x="1172" y="2265" width="272" height="124" rx="62"/><text class="pn ez" x="1308" y="2342">2.1.1.86</text></g>

<!-- ===== Methylotrophic nodes ===== -->
<g id="n-methylamine"><rect class="aN" x="2203" y="1288" width="280" height="93" rx="46"/><text class="pn nb" x="2343" y="1348">Methylamine</text></g>
<g id="n-dimethylamine"><rect class="aN" x="2532" y="1290" width="323" height="86" rx="43"/><text class="pn nb" x="2693" y="1347">Dimethylamine</text></g>
<g id="n-trimethylamine"><rect class="aN" x="2895" y="1288" width="337" height="93" rx="46"/><text class="pn nb" x="3063" y="1348">Trimethylamine</text></g>
<g id="n-mfba1"><rect class="pN" x="2254" y="1452" width="161" height="91" rx="45"/><text class="pn nb" x="2335" y="1511">MfbA</text></g>
<g id="n-mttb"><rect class="pN" x="2204" y="1545" width="139" height="95" rx="47"/><text class="pn nb" x="2273" y="1606">MttB</text></g>
<g id="n-mttc"><rect class="pN" x="2338" y="1545" width="134" height="95" rx="47"/><text class="pn nb" x="2405" y="1606">MttC</text></g>
<g id="n-mfba2"><rect class="pN" x="2622" y="1458" width="146" height="90" rx="45"/><text class="pn nb" x="2695" y="1517">MfbA</text></g>
<g id="n-mfbb"><rect class="pN" x="2563" y="1546" width="141" height="94" rx="47"/><text class="pn nb" x="2633" y="1607">MfbB</text></g>
<g id="n-mfbc"><rect class="pN" x="2698" y="1543" width="142" height="95" rx="47"/><text class="pn nb" x="2769" y="1604">MfbC</text></g>
<g id="n-mfba3"><rect class="pN" x="3004" y="1458" width="147" height="90" rx="45"/><text class="pn nb" x="3077" y="1517">MfbA</text></g>
<g id="n-mtmb"><rect class="pN" x="2946" y="1543" width="141" height="95" rx="47"/><text class="pn nb" x="3016" y="1604">MtmB</text></g>
<g id="n-mtmc"><rect class="pN" x="3084" y="1543" width="141" height="95" rx="47"/><text class="pn nb" x="3154" y="1604">MtmC</text></g>

<!-- ===== Methanol nodes ===== -->
<g id="n-methanol"><rect x="2541" y="2072" width="325" height="88" rx="44" fill="#d9f2da" stroke="#1c6b1c" stroke-width="6"/><text class="pn nb" x="2703" y="2130">Methanol</text></g>
<g id="n-mtab"><rect class="mN" x="2529" y="2349" width="187" height="93" rx="46"/><text class="pn nb" x="2622" y="2409">MtaB</text></g>
<g id="n-mtac"><rect class="mN" x="2701" y="2349" width="189" height="93" rx="46"/><text class="pn nb" x="2795" y="2409">MtaC</text></g>
<g id="n-mtaa"><rect class="mN" x="2608" y="2260" width="190" height="92" rx="46"/><text class="pn nb" x="2703" y="2320">MtaA</text></g>

<!-- ===== Common nodes ===== -->
<g id="n-methylcom"><ellipse class="met" cx="1750" cy="2568" rx="28" ry="26"/><text class="pn mt" x="1748" y="2641">Methyl-CoM</text></g>
<g id="n-2.8.4.1"><rect class="tN" x="1628" y="2710" width="269" height="128" rx="64"/><text class="pn ez" x="1762" y="2789">2.8.4.1</text></g>
<g id="n-methane"><rect x="1628" y="3028" width="270" height="168" rx="82" fill="#fff" stroke="#0b2633" stroke-width="6"/><text class="pn" x="1763" y="3126" font-size="40" font-weight="bold" fill="#111" text-anchor="middle">METHANE</text></g>
<g id="n-comsscob"><ellipse class="met" cx="2197" cy="2769" rx="28" ry="26"/><text class="pn mt" x="2176" y="2715">CoM-S-S-CoB</text></g>
<g id="n-1.8.7.3"><rect class="tN" x="2567" y="2660" width="270" height="127" rx="60"/><text class="pn ez" x="2702" y="2738">1.8.7.3</text></g>
<g id="n-1.8.98.1"><rect class="tN" x="2455" y="2787" width="260" height="111" rx="55"/><text class="pn ez" x="2585" y="2857">1.8.98.1</text></g>
<g id="n-1.8.98.4"><rect class="tN" x="2701" y="2784" width="267" height="114" rx="56"/><text class="pn ez" x="2834" y="2856">1.8.98.4</text></g>
<g id="n-1.8.98.5"><rect class="tN" x="2458" y="2898" width="260" height="112" rx="55"/><text class="pn ez" x="2588" y="2969">1.8.98.5</text></g>
<g id="n-1.8.98.6"><rect class="tN" x="2704" y="2895" width="267" height="117" rx="57"/><text class="pn ez" x="2837" y="2968">1.8.98.6</text></g>
<g id="n-coenzymeb"><ellipse class="met" cx="2430" cy="3134" rx="28" ry="26"/><text class="pn mt" x="2433" y="3199">Coenzyme B</text></g>
<g id="n-coenzymem"><ellipse class="met" cx="2962" cy="3134" rx="28" ry="26"/><text class="pn mt" x="2975" y="3199">Coenzyme M</text></g>

<!-- ===== Legend ===== -->
<g id="legend">
<rect x="465" y="3396" width="94" height="80" fill="#1a72c9"/>
<rect x="465" y="3522" width="94" height="82" fill="#45b03e"/>
<text class="lg" x="669" y="3442" font-size="51" textLength="420" lengthAdjust="spacingAndGlyphs">: Upshifted scenario</text>
<text class="lg" x="669" y="3578" font-size="51" textLength="482" lengthAdjust="spacingAndGlyphs">: Downshifted scenario</text>
<polygon points="1760,3386 1963,3386 1963,3369 2013,3395 1963,3421 1963,3404 1760,3404" fill="#ff7f27"/>
<text class="lg" x="2040" y="3416" textLength="340" lengthAdjust="spacingAndGlyphs">Hydrogenotrophic</text>
<polygon points="1767,3478 1971,3478 1971,3461 2024,3487 1971,3513 1971,3496 1767,3496" fill="#ff0000"/>
<text class="lg" x="2038" y="3505" textLength="257" lengthAdjust="spacingAndGlyphs">Acetoclastic</text>
<polygon points="1767,3579 1971,3579 1971,3562 2024,3588 1971,3614 1971,3597 1767,3597" fill="#7f2aa0"/>
<text class="lg" x="2044" y="3605" textLength="324" lengthAdjust="spacingAndGlyphs">Methylotrophic</text>
<polygon points="2473,3386 2679,3386 2679,3369 2728,3395 2679,3421 2679,3404 2473,3404" fill="#000"/>
<text class="lg" x="2742" y="3410" textLength="172" lengthAdjust="spacingAndGlyphs">Common</text>
<polygon points="2473,3486 2679,3486 2679,3469 2728,3495 2679,3521 2679,3504 2473,3504" fill="#2e7d2e"/>
<text class="lg" x="2745" y="3510" textLength="178" lengthAdjust="spacingAndGlyphs">Methanol</text>
<text x="1697" y="3713" font-family="'Liberation Serif','Times New Roman',serif" font-weight="bold" font-size="80" text-anchor="middle">(e)</text>
</g>
</svg>
